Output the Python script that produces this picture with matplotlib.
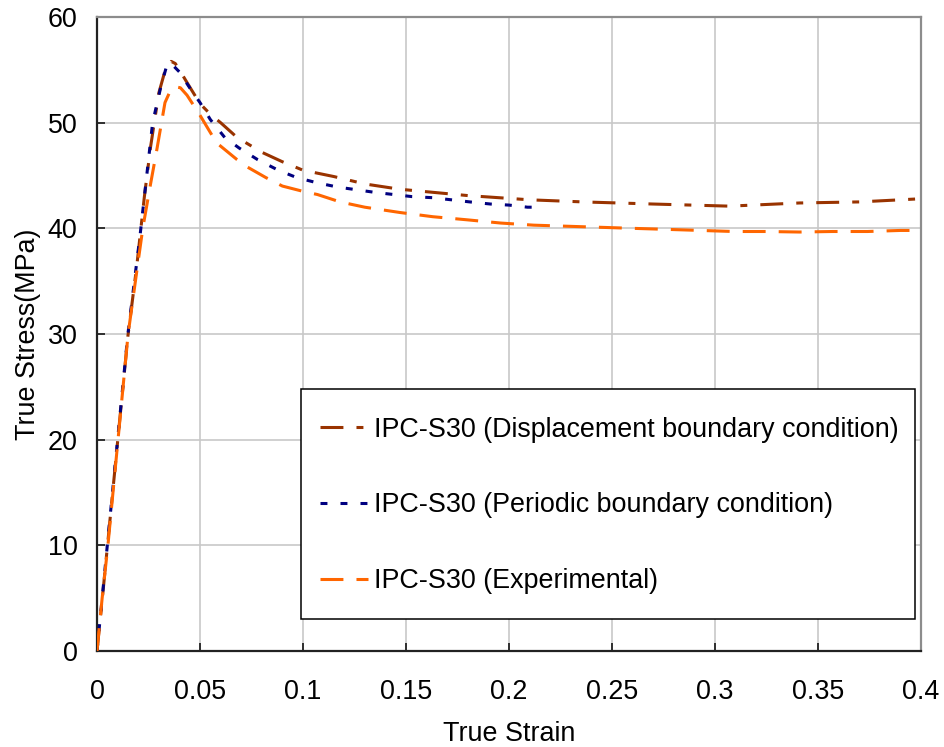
import matplotlib
matplotlib.use("Agg")
import matplotlib.pyplot as plt
from matplotlib.patches import Rectangle

plt.rcParams['font.family'] = ['Liberation Sans', 'DejaVu Sans']
plt.rcParams['lines.scale_dashes'] = False

# Displacement boundary condition (simulation)
disp_strain = [0, 0.002, 0.005, 0.010, 0.015, 0.0194, 0.023, 0.026, 0.030, 0.033, 0.036, 0.038,
               0.040, 0.044, 0.050, 0.055, 0.060, 0.068, 0.080, 0.090, 0.100, 0.115, 0.130, 0.147,
               0.180, 0.210, 0.236, 0.270, 0.307, 0.341, 0.370, 0.400]
disp_stress = [0, 3.8, 9.8, 19.8, 29.8, 36.6, 43.0, 47.7, 52.8, 54.9, 55.8, 55.6,
               55.0, 53.7, 51.8, 50.8, 50.0, 48.6, 47.2, 46.3, 45.5, 44.9, 44.2, 43.7,
               43.1, 42.7, 42.5, 42.3, 42.1, 42.4, 42.5, 42.8]

# Periodic boundary condition (simulation)
per_strain = [0, 0.002, 0.005, 0.010, 0.015, 0.021, 0.027, 0.031, 0.034, 0.036, 0.040,
              0.045, 0.050, 0.055, 0.062, 0.069, 0.078, 0.088, 0.097, 0.107, 0.117, 0.135,
              0.153, 0.163, 0.181, 0.191, 0.200, 0.209, 0.213]
per_stress = [0, 4.0, 10.0, 20.0, 30.0, 39.5, 50.0, 53.4, 55.5, 55.6, 54.8,
              53.3, 51.9, 50.3, 48.6, 47.6, 46.5, 45.5, 44.8, 44.3, 43.9, 43.4,
              43.0, 42.9, 42.5, 42.3, 42.2, 42.0, 42.0]

# Experimental
exp_strain = [0, 0.0025, 0.0053, 0.0102, 0.0151, 0.0190, 0.0223, 0.026, 0.029, 0.033, 0.036,
              0.038, 0.0405, 0.0437, 0.050, 0.058, 0.068, 0.073, 0.082, 0.090, 0.100, 0.107,
              0.118, 0.130, 0.147, 0.163, 0.180, 0.196, 0.212, 0.228, 0.244, 0.260, 0.277,
              0.293, 0.309, 0.325, 0.341, 0.357, 0.374, 0.390, 0.400]
exp_stress = [0, 5.0, 10.0, 20.0, 30.0, 35.5, 40.1, 44.2, 47.4, 51.9, 53.2,
              53.4, 53.3, 52.6, 50.7, 48.1, 46.5, 45.8, 44.8, 44.0, 43.5, 43.2,
              42.5, 42.0, 41.5, 41.1, 40.8, 40.5, 40.3, 40.2, 40.1, 40.0, 39.9,
              39.8, 39.7, 39.7, 39.65, 39.7, 39.7, 39.8, 39.8]

labels = ["IPC-S30 (Displacement boundary condition)",
          "IPC-S30 (Periodic boundary condition)",
          "IPC-S30 (Experimental)"]
x_ticks = [0, 0.05, 0.1, 0.15, 0.2, 0.25, 0.3, 0.35, 0.4]
x_ticklabels = ["0", "0.05", "0.1", "0.15", "0.2", "0.25", "0.3", "0.35", "0.4"]
y_ticks = [0, 10, 20, 30, 40, 50, 60]

FS = 19.4

fig = plt.figure(figsize=(9.44, 7.47), dpi=100)
ax = fig.add_axes([97/944, 1 - 651/747, 824/944, 634/747])

l1, = ax.plot(disp_strain, disp_stress, color="#993300", lw=2.2,
              linestyle=(0, (16.5, 9.4, 5, 9.4)), label=labels[0], zorder=3)
l2, = ax.plot(per_strain, per_stress, color="#000080", lw=2.2,
              linestyle=(0, (5, 9.4)), label=labels[1], zorder=3)
l3, = ax.plot(exp_strain, exp_stress, color="#FF6600", lw=2.2,
              linestyle=(0, (16.5, 9.4)), label=labels[2], zorder=3)

ax.set_xlim(0, 0.4)
ax.set_ylim(0, 60)
ax.set_xticks(x_ticks)
ax.set_xticklabels(x_ticklabels)
ax.set_yticks(y_ticks)
ax.grid(True, color="#c8c8c8", lw=1.2, zorder=0)
ax.set_axisbelow(True)

ax.tick_params(axis="both", direction="in", length=6, width=1.3, color="#222222",
               labelsize=FS)
ax.tick_params(axis="y", pad=14)
ax.tick_params(axis="x", pad=20)
for side in ("left", "bottom"):
    ax.spines[side].set_color("#222222")
    ax.spines[side].set_linewidth(1.6)
for side in ("top", "right"):
    ax.spines[side].set_color("#8c8c8c")
    ax.spines[side].set_linewidth(1.6)

ax.set_xlabel("True Strain", fontsize=FS, labelpad=12)
ax.set_ylabel("True Stress(MPa)", fontsize=FS, labelpad=5)

# legend box
x0 = (301 - 97) / 824
y0 = (651 - 619) / 634
w = (915 - 301) / 824
h = (619 - 389) / 634
ax.add_patch(Rectangle((x0, y0), w, h, transform=ax.transAxes, facecolor="white",
                       edgecolor="black", lw=1.1, zorder=4))
leg = ax.legend(handles=[l1, l2, l3], loc="center left",
                bbox_to_anchor=((320 - 97) / 824, (651 - 505.5) / 634),
                frameon=False, fontsize=FS, borderpad=0, borderaxespad=0,
                handlelength=1.78, handletextpad=0.22, labelspacing=1.85)
leg.set_zorder(5)

fig.savefig("out.png", dpi=100)
